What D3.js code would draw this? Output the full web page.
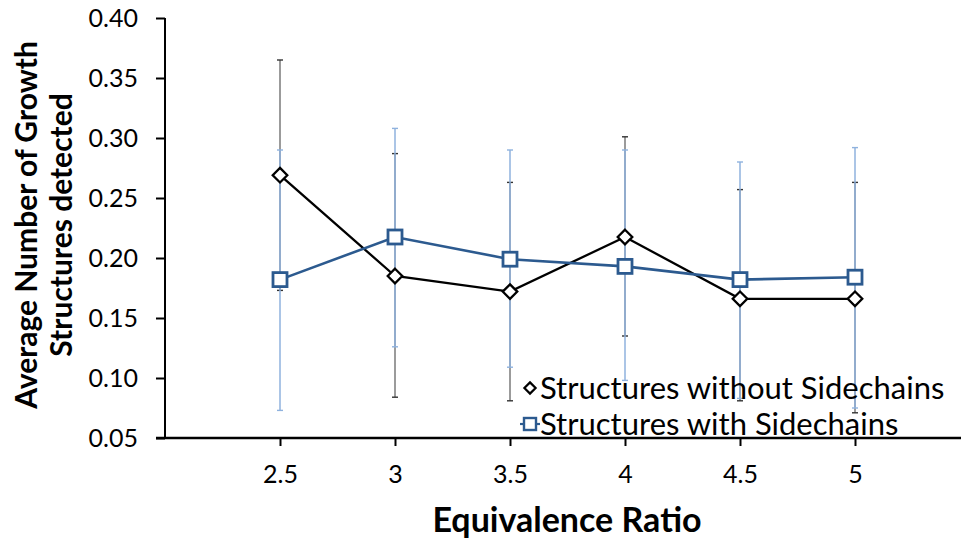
<!DOCTYPE html>
<html>
<head>
<meta charset="utf-8">
<script src="https://cdn.jsdelivr.net/npm/d3@7"></script>
<style>
  html, body { margin: 0; padding: 0; background: #fff; }
  svg { display: block; font-family: Lato, "Open Sans", sans-serif; }
</style>
</head>
<body>
<svg id="chart" width="961" height="539"></svg>
<script>
// Equivalence ratios on the x axis
const ratios = [2.5, 3, 3.5, 4, 4.5, 5];

// Mean number of growth structures per ratio
const withoutSidechains = [0.269, 0.185, 0.172, 0.2175, 0.166, 0.166];
const withSidechains    = [0.182, 0.2175, 0.199, 0.193, 0.182, 0.184];

// Error bar extents (low / high) for each series
const withoutLow  = [0.173, 0.084, 0.081, 0.135, 0.081, 0.071];
const withoutHigh = [0.365, 0.287, 0.263, 0.301, 0.257, 0.263];
const withLow     = [0.073, 0.126, 0.109, 0.098, 0.083, 0.075];
const withHigh    = [0.290, 0.308, 0.290, 0.290, 0.280, 0.292];

const yTicks = [0.05, 0.10, 0.15, 0.20, 0.25, 0.30, 0.35, 0.40];
const seriesNames = ["Structures without Sidechains", "Structures with Sidechains"];

const svg = d3.select("#chart");

const x = d3.scaleLinear().domain([2, 5.5]).range([165, 970]);
const y = d3.scaleLinear().domain([0.05, 0.40]).range([438, 18]);

const black = "#000000";
const blue = "#2c5a8f";
const lightBlue = "#8fb2de";
const grey = "#7a7a7a";

// Y axis
const yAxis = svg.append("g")
  .attr("transform", `translate(${x(2)},0)`)
  .call(d3.axisLeft(y).tickValues(yTicks).tickFormat(d3.format(".2f")).tickSize(9).tickPadding(18));
yAxis.select(".domain").attr("stroke", "#000").attr("stroke-width", 2).attr("d", `M0,${y(0.40)}V${y(0.05)}`);
yAxis.selectAll(".tick line").attr("stroke", "#000").attr("stroke-width", 2);
yAxis.selectAll(".tick text").attr("font-size", 25).attr("fill", "#000").attr("font-family", "Lato, sans-serif");

// X axis
const xAxis = svg.append("g")
  .attr("transform", `translate(0,${y(0.05)})`)
  .call(d3.axisBottom(x).tickValues(ratios).tickFormat(d => String(d)).tickSize(8).tickPadding(19));
xAxis.select(".domain").attr("stroke", "#000").attr("stroke-width", 2.5).attr("d", `M${x(2) - 9},0H970`);
xAxis.selectAll(".tick line").attr("stroke", "#000").attr("stroke-width", 2);
xAxis.selectAll(".tick text").attr("font-size", 25).attr("fill", "#000").attr("font-family", "Lato, sans-serif");

// Error bars
function errorBars(lo, hi, color, capColor) {
  const g = svg.append("g");
  ratios.forEach((r, i) => {
    const cx = x(r);
    g.append("line").attr("x1", cx).attr("x2", cx).attr("y1", y(lo[i])).attr("y2", y(hi[i]))
      .attr("stroke", color).attr("stroke-width", 1.5);
    [lo[i], hi[i]].forEach(v => {
      g.append("line").attr("x1", cx - 3).attr("x2", cx + 3).attr("y1", y(v)).attr("y2", y(v))
        .attr("stroke", capColor).attr("stroke-width", 1.4);
    });
  });
}
errorBars(withoutLow, withoutHigh, grey, "#333");
errorBars(withLow, withHigh, lightBlue, lightBlue);

// Lines
const line = d3.line().x((d, i) => x(ratios[i])).y(d => y(d));
svg.append("path").datum(withoutSidechains).attr("d", line)
  .attr("fill", "none").attr("stroke", black).attr("stroke-width", 2.3);
svg.append("path").datum(withSidechains).attr("d", line)
  .attr("fill", "none").attr("stroke", blue).attr("stroke-width", 2.6);

// Markers
const diamond = d3.symbol().type(d3.symbolDiamond2);
svg.append("g").selectAll("path").data(withoutSidechains).join("path")
  .attr("d", diamond.size(135)())
  .attr("transform", (d, i) => `translate(${x(ratios[i])},${y(d)})`)
  .attr("fill", "#fff").attr("stroke", black).attr("stroke-width", 2.3);

svg.append("g").selectAll("rect").data(withSidechains).join("rect")
  .attr("x", (d, i) => x(ratios[i]) - 7).attr("y", d => y(d) - 7)
  .attr("width", 14).attr("height", 14)
  .attr("fill", "#fff").attr("stroke", blue).attr("stroke-width", 2.8);

// Legend
const legend = svg.append("g").attr("transform", "translate(530,388)");
legend.append("path").attr("d", diamond.size(80)())
  .attr("fill", "#fff").attr("stroke", black).attr("stroke-width", 2.2);
legend.append("text").attr("x", 10).attr("y", 0).attr("dy", "0.35em")
  .attr("font-size", 31).attr("fill", "#000").text(seriesNames[0]);
const leg2 = legend.append("g").attr("transform", "translate(0,36)");
leg2.append("line").attr("x1", -10).attr("x2", 10).attr("y1", 0).attr("y2", 0)
  .attr("stroke", blue).attr("stroke-width", 2.2);
leg2.append("rect").attr("x", -6).attr("y", -6).attr("width", 12).attr("height", 12)
  .attr("fill", "#fff").attr("stroke", blue).attr("stroke-width", 2.4);
leg2.append("text").attr("x", 10).attr("y", 0).attr("dy", "0.35em")
  .attr("font-size", 31).attr("fill", "#000").text(seriesNames[1]);

// Axis titles
svg.append("text").attr("x", 567).attr("y", 520).attr("dy", "0.35em")
  .attr("text-anchor", "middle").attr("font-size", 34).attr("font-weight", "bold")
  .text("Equivalence Ratio");

const yTitle = svg.append("g").attr("transform", "translate(43,225) rotate(-90)");
yTitle.append("text").attr("x", 0).attr("y", -17).attr("dy", "0.35em")
  .attr("text-anchor", "middle").attr("font-size", 30).attr("font-weight", "bold")
  .text("Average Number of Growth");
yTitle.append("text").attr("x", 0).attr("y", 18).attr("dy", "0.35em")
  .attr("text-anchor", "middle").attr("font-size", 30).attr("font-weight", "bold")
  .text("Structures detected");
</script>
</body>
</html>
